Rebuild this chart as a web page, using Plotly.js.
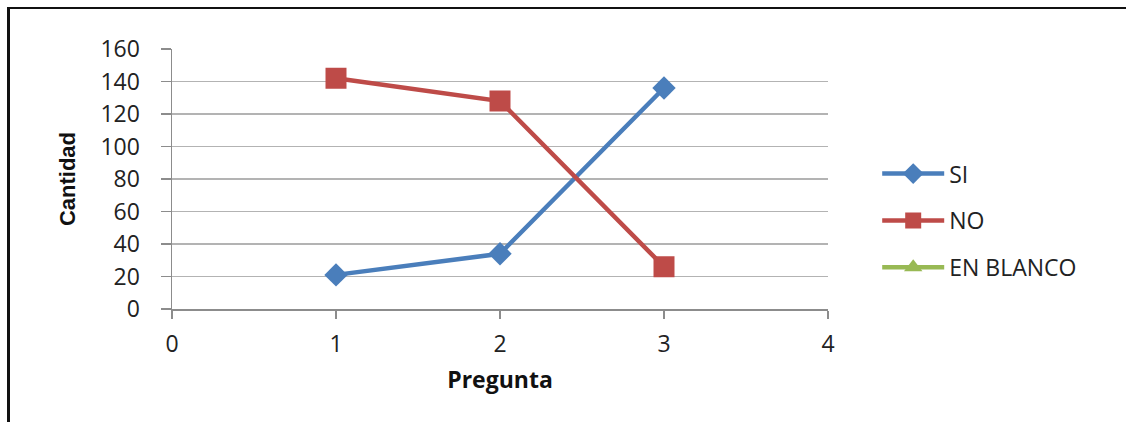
<!DOCTYPE html>
<html>
<head>
<meta charset="utf-8">
<script src="https://cdn.plot.ly/plotly-3.0.1.min.js"></script>
<style>
  html, body { margin: 0; padding: 0; background: #fff; }
  #wrap { position: relative; width: 1126px; height: 422px; overflow: hidden; }
  #chart { width: 1126px; height: 422px; }
  #frame {
    position: absolute; left: 7px; top: 7px; width: 1130px; height: 430px;
    border-left: 3px solid #111; border-top: 2px solid #111;
    pointer-events: none;
  }
</style>
</head>
<body>
<div id="wrap">
  <div id="chart"></div>
  <div id="frame"></div>
</div>
<script>
// Answers per question
const preguntas = [1, 2, 3];
const si = [21, 34, 136];
const no = [142, 128, 26];
const enBlanco = [null, null, null];

const seriesNames = ['SI', 'NO', 'EN BLANCO'];
const seriesColors = ['#4a7ebb', '#be4b48', '#98b954'];

const font = 'Open Sans, Liberation Sans, sans-serif';

const traces = [
  {
    x: preguntas, y: si, name: seriesNames[0], legendgroup: 'si', type: 'scatter', mode: 'lines+markers',
    line: { color: seriesColors[0], width: 4.5 },
    marker: { symbol: 'diamond', size: 18, color: seriesColors[0] }
  },
  {
    x: preguntas, y: no, name: seriesNames[1], legendgroup: 'no', type: 'scatter', mode: 'lines+markers',
    line: { color: seriesColors[1], width: 4.5 },
    marker: { symbol: 'square', size: 21, color: seriesColors[1] }
  },
  {
    x: preguntas, y: enBlanco, name: seriesNames[2], legendgroup: 'blanco', type: 'scatter', mode: 'lines+markers',
    line: { color: seriesColors[2], width: 4.5 },
    marker: { symbol: 'triangle-up', size: 16, color: seriesColors[2] }
  }
];

const layout = {
  width: 1126, height: 422,
  margin: { l: 172, r: 298, t: 49, b: 113 },
  paper_bgcolor: 'rgba(0,0,0,0)',
  plot_bgcolor: '#fff',
  font: { family: font, color: '#222', size: 22 },
  showlegend: true,
  xaxis: {
    range: [0, 4], dtick: 1, tick0: 0,
    showgrid: false, zeroline: false,
    showline: true, linecolor: '#8c8c8c', linewidth: 1.5,
    ticks: 'outside', ticklen: 8, tickcolor: '#8c8c8c', tickwidth: 1.5,
    ticklabelstandoff: 6,
    tickfont: { family: font, size: 23, color: '#222' },
    title: { text: '<b>Pregunta</b>', font: { family: font, size: 23, color: '#111' }, standoff: 14 }
  },
  yaxis: {
    range: [0, 160], dtick: 20, tick0: 0,
    showgrid: true, gridcolor: '#b3b3b3', gridwidth: 1.5,
    zeroline: false,
    showline: true, linecolor: '#8c8c8c', linewidth: 1.5,
    ticks: 'outside', ticklen: 10, tickcolor: '#8c8c8c', tickwidth: 1.5,
    ticklabelstandoff: 16,
    tickfont: { family: font, size: 23, color: '#222' },
    title: { text: '<b>Cantidad</b>', font: { family: 'Liberation Sans, Arial, sans-serif', size: 22, color: '#111' }, standoff: 18 }
  },
  legend: {
    x: 1.075, xanchor: 'left', y: 0.34, yanchor: 'middle',
    font: { family: font, size: 23, color: '#222' },
    traceorder: 'grouped', tracegroupgap: 14, itemwidth: 62,
    bgcolor: 'rgba(0,0,0,0)'
  }
};

Plotly.newPlot('chart', traces, layout, { displayModeBar: false, staticPlot: true });
</script>
</body>
</html>
